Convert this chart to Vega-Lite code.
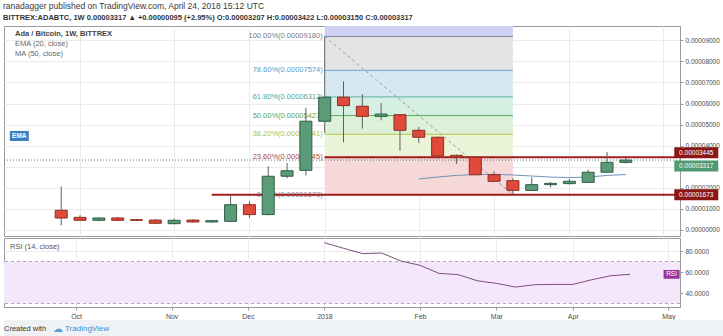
{
  "$schema": "https://vega.github.io/schema/vega-lite/v6.json",
  "background": "white",
  "padding": {"left": 3, "top": 1, "right": 0, "bottom": 0},
  "spacing": 0,
  "title": {
    "text": "ranadagger published on TradingView.com, April 24, 2018 15:12 UTC",
    "subtitle": "BITTREX:ADABTC, 1W 0.00003317 ▲ +0.00000095 (+2.95%) O:0.00003207 H:0.00003422 L:0.00003150 C:0.00003317",
    "anchor": "start",
    "font": "Liberation Sans",
    "fontSize": 8.5,
    "fontWeight": "normal",
    "color": "#3a3a3a",
    "subtitleFont": "Liberation Sans",
    "subtitleFontSize": 7.5,
    "subtitleFontWeight": "bold",
    "subtitleColor": "#333333",
    "subtitlePadding": 4,
    "offset": 4
  },
  "config": {
    "font": "Liberation Sans",
    "view": {"stroke": "#9a9a9a"},
    "axis": {
      "labelFont": "Liberation Sans",
      "labelFontSize": 6.5,
      "labelColor": "#4a4a4a",
      "gridColor": "#ebebeb",
      "domainColor": "#9a9a9a",
      "tickColor": "#9a9a9a",
      "tickSize": 3,
      "labelPadding": 2,
      "labelOverlap": false,
      "labelBound": false,
      "title": null
    }
  },
  "resolve": {"scale": {"x": "independent", "y": "independent"}},
  "datasets": {
    "candles": [
      {"date": "2017-09-25", "open": 0.00000935, "high": 0.0000207, "low": 0.0000022, "close": 0.00000569},
      {"date": "2017-10-02", "open": 0.0000060, "high": 0.0000070, "low": 0.0000044, "close": 0.0000046},
      {"date": "2017-10-09", "open": 0.0000046, "high": 0.0000060, "low": 0.0000042, "close": 0.0000057},
      {"date": "2017-10-16", "open": 0.0000057, "high": 0.0000062, "low": 0.0000043, "close": 0.0000046},
      {"date": "2017-10-23", "open": 0.0000049, "high": 0.0000052, "low": 0.0000044, "close": 0.0000046},
      {"date": "2017-10-30", "open": 0.0000047, "high": 0.0000052, "low": 0.0000028, "close": 0.0000032},
      {"date": "2017-11-06", "open": 0.0000030, "high": 0.0000054, "low": 0.0000027, "close": 0.0000046},
      {"date": "2017-11-13", "open": 0.0000047, "high": 0.0000052, "low": 0.0000035, "close": 0.0000038},
      {"date": "2017-11-20", "open": 0.0000038, "high": 0.0000047, "low": 0.0000035, "close": 0.0000044},
      {"date": "2017-11-27", "open": 0.0000041, "high": 0.00001673, "low": 0.0000038, "close": 0.0000120},
      {"date": "2017-12-04", "open": 0.0000120, "high": 0.0000136, "low": 0.0000057, "close": 0.0000073},
      {"date": "2017-12-11", "open": 0.0000073, "high": 0.0000302, "low": 0.0000070, "close": 0.0000255},
      {"date": "2017-12-18", "open": 0.0000255, "high": 0.0000318, "low": 0.0000245, "close": 0.0000281},
      {"date": "2017-12-25", "open": 0.0000283, "high": 0.0000579, "low": 0.0000259, "close": 0.0000516},
      {"date": "2018-01-01", "open": 0.0000516, "high": 0.0000918, "low": 0.0000460, "close": 0.0000630},
      {"date": "2018-01-08", "open": 0.0000630, "high": 0.0000705, "low": 0.0000416, "close": 0.0000590},
      {"date": "2018-01-15", "open": 0.0000587, "high": 0.0000645, "low": 0.0000481, "close": 0.0000539},
      {"date": "2018-01-22", "open": 0.0000539, "high": 0.0000602, "low": 0.0000520, "close": 0.0000550},
      {"date": "2018-01-29", "open": 0.0000547, "high": 0.0000550, "low": 0.0000376, "close": 0.0000473},
      {"date": "2018-02-05", "open": 0.0000473, "high": 0.0000489, "low": 0.0000413, "close": 0.0000440},
      {"date": "2018-02-12", "open": 0.0000440, "high": 0.0000443, "low": 0.0000350, "close": 0.0000352},
      {"date": "2018-02-19", "open": 0.0000354, "high": 0.0000358, "low": 0.0000313, "close": 0.0000346},
      {"date": "2018-02-26", "open": 0.0000345, "high": 0.0000348, "low": 0.0000260, "close": 0.0000262},
      {"date": "2018-03-05", "open": 0.0000262, "high": 0.0000278, "low": 0.0000228, "close": 0.0000231},
      {"date": "2018-03-12", "open": 0.0000234, "high": 0.0000247, "low": 0.00001673, "close": 0.0000188},
      {"date": "2018-03-19", "open": 0.0000188, "high": 0.0000250, "low": 0.0000185, "close": 0.0000215},
      {"date": "2018-03-26", "open": 0.0000215, "high": 0.0000227, "low": 0.0000202, "close": 0.0000221},
      {"date": "2018-04-02", "open": 0.0000220, "high": 0.0000243, "low": 0.0000215, "close": 0.0000231},
      {"date": "2018-04-09", "open": 0.0000226, "high": 0.0000286, "low": 0.0000224, "close": 0.0000274},
      {"date": "2018-04-16", "open": 0.0000274, "high": 0.0000370, "low": 0.0000270, "close": 0.0000321},
      {"date": "2018-04-23", "open": 0.00003207, "high": 0.00003422, "low": 0.0000315, "close": 0.00003317}
    ],
    "ema": [
      {"date": "2018-02-05", "ema": 0.0000242},
      {"date": "2018-02-12", "ema": 0.0000251},
      {"date": "2018-02-19", "ema": 0.0000259},
      {"date": "2018-02-26", "ema": 0.0000263},
      {"date": "2018-03-05", "ema": 0.0000264},
      {"date": "2018-03-12", "ema": 0.0000261},
      {"date": "2018-03-19", "ema": 0.0000256},
      {"date": "2018-03-26", "ema": 0.0000251},
      {"date": "2018-04-02", "ema": 0.0000249},
      {"date": "2018-04-09", "ema": 0.0000251},
      {"date": "2018-04-16", "ema": 0.0000259},
      {"date": "2018-04-23", "ema": 0.0000263}
    ],
    "rsi": [
      {"date": "2018-01-01", "rsi": 87.9},
      {"date": "2018-01-08", "rsi": 82.6},
      {"date": "2018-01-15", "rsi": 77.5},
      {"date": "2018-01-22", "rsi": 78.1},
      {"date": "2018-01-29", "rsi": 70.5},
      {"date": "2018-02-05", "rsi": 66.4},
      {"date": "2018-02-12", "rsi": 58.7},
      {"date": "2018-02-19", "rsi": 57.5},
      {"date": "2018-02-26", "rsi": 51.7},
      {"date": "2018-03-05", "rsi": 49.2},
      {"date": "2018-03-12", "rsi": 45.7},
      {"date": "2018-03-19", "rsi": 47.9},
      {"date": "2018-03-26", "rsi": 48.2},
      {"date": "2018-04-02", "rsi": 48.2},
      {"date": "2018-04-09", "rsi": 52.7},
      {"date": "2018-04-16", "rsi": 56.5},
      {"date": "2018-04-23", "rsi": 57.8}
    ],
    "fib": [
      {"level": "100.00%", "price": 0.0000918, "label": "100.00%(0.00009180)"},
      {"level": "78.60%", "price": 0.00007574, "label": "78.60%(0.00007574)"},
      {"level": "61.80%", "price": 0.00006312, "label": "61.80%(0.00006312)"},
      {"level": "50.00%", "price": 0.00005427, "label": "50.00%(0.00005427)"},
      {"level": "38.20%", "price": 0.00004541, "label": "38.20%(0.00004541)"},
      {"level": "23.60%", "price": 0.00003445, "label": "23.60%(0.00003445)"},
      {"level": "0.00%", "price": 0.00001673, "label": "0.00%(0.00001673)"}
    ],
    "zones": [
      {"zone": "161.8-100", "low": 0.0000918, "high": 0.00013822},
      {"zone": "100-78.6", "low": 0.00007574, "high": 0.0000918},
      {"zone": "78.6-61.8", "low": 0.00006312, "high": 0.00007574},
      {"zone": "61.8-50", "low": 0.00005427, "high": 0.00006312},
      {"zone": "50-38.2", "low": 0.00004541, "high": 0.00005427},
      {"zone": "38.2-23.6", "low": 0.00003445, "high": 0.00004541},
      {"zone": "23.6-0", "low": 0.00001673, "high": 0.00003445}
    ]
  },
  "vconcat": [
    {
      "width": 676,
      "height": 210,
      "layer": [
        {
          "data": {"name": "zones"},
          "mark": {"type": "rect", "clip": true},
          "encoding": {
            "x": {
              "datum": {"year": 2018, "month": 1, "date": 1, "utc": true},
              "type": "temporal",
              "scale": {"type": "utc", "domain": [{"year": 2017, "month": 9, "date": 5, "hours": 14, "utc": true}, {"year": 2018, "month": 5, "date": 11, "hours": 7, "utc": true}]},
              "axis": {
                "values": [
                  {"year": 2017, "month": 10, "date": 2, "utc": true},
                  {"year": 2017, "month": 11, "date": 6, "utc": true},
                  {"year": 2017, "month": 12, "date": 4, "utc": true},
                  {"year": 2018, "month": 1, "date": 1, "utc": true},
                  {"year": 2018, "month": 2, "date": 5, "utc": true},
                  {"year": 2018, "month": 3, "date": 5, "utc": true},
                  {"year": 2018, "month": 4, "date": 2, "utc": true},
                  {"year": 2018, "month": 5, "date": 7, "utc": true}
                ],
                "tickCount": 30,
                "labels": false, "ticks": false, "domain": false, "grid": true
              }
            },
            "x2": {"datum": {"year": 2018, "month": 3, "date": 12, "utc": true}},
            "y": {
              "field": "low",
              "type": "quantitative",
              "scale": {"domain": [-0.00000285, 0.00009677], "zero": false, "nice": false},
              "axis": {
                "orient": "right",
                "values": [0, 0.00001, 0.00002, 0.00003, 0.00004, 0.00005, 0.00006, 0.00007, 0.00008, 0.00009],
                "tickCount": 30,
                "format": ".8f",
                "labelExpr": "datum.value > 0.0000295 && datum.value < 0.0000305 ? '' : datum.label",
                "labelOverlap": false,
                "grid": true
              }
            },
            "y2": {"field": "high"},
            "fill": {
              "field": "zone",
              "type": "nominal",
              "scale": {
                "domain": ["161.8-100", "100-78.6", "78.6-61.8", "61.8-50", "50-38.2", "38.2-23.6", "23.6-0"],
                "range": ["#cdd0f2", "#e4e4e7", "#d6e9f3", "#d6efe3", "#dcf1d8", "#ebf4d8", "#f6d8d8"]
              },
              "legend": null
            }
          }
        },
        {
          "data": {"name": "fib"},
          "mark": {"type": "rule", "strokeWidth": 1},
          "encoding": {
            "x": {"datum": {"year": 2018, "month": 1, "date": 1, "utc": true}, "type": "temporal"},
            "x2": {"datum": {"year": 2018, "month": 3, "date": 12, "utc": true}},
            "y": {"field": "price", "type": "quantitative"},
            "stroke": {
              "field": "level",
              "type": "nominal",
              "scale": {
                "domain": ["100.00%", "78.60%", "61.80%", "50.00%", "38.20%", "23.60%", "0.00%"],
                "range": ["#85859a", "#6aa6cc", "#5fb0a2", "#4caf50", "#b3c93a", "#c0584a", "#8a8a9a"]
              },
              "legend": null
            }
          }
        },
        {
          "data": {"name": "fib"},
          "mark": {"type": "text", "align": "right", "baseline": "middle", "dx": -2, "fontSize": 7.5, "font": "Liberation Sans"},
          "encoding": {
            "x": {"datum": {"year": 2018, "month": 1, "date": 1, "utc": true}, "type": "temporal"},
            "y": {"field": "price", "type": "quantitative"},
            "text": {"field": "label"},
            "color": {
              "field": "level",
              "type": "nominal",
              "scale": {
                "domain": ["100.00%", "78.60%", "61.80%", "50.00%", "38.20%", "23.60%", "0.00%"],
                "range": ["#7a7a8a", "#5b9cc4", "#4fa597", "#5aa55a", "#aec236", "#b5483a", "#8a8a9a"]
              },
              "legend": null
            }
          }
        },
        {
          "data": {"values": [{}]},
          "mark": {"type": "rule", "color": "#9a9a9a", "strokeDash": [3, 3], "strokeWidth": 1},
          "encoding": {
            "x": {"datum": {"year": 2018, "month": 1, "date": 1, "utc": true}, "type": "temporal"},
            "x2": {"datum": {"year": 2018, "month": 3, "date": 12, "utc": true}},
            "y": {"datum": 0.0000918, "type": "quantitative"},
            "y2": {"datum": 0.00001673}
          }
        },
        {
          "data": {"values": [{}]},
          "mark": {"type": "rule", "color": "#3f7f77", "strokeDash": [1, 2], "strokeWidth": 1},
          "encoding": {
            "y": {"datum": 0.00003317, "type": "quantitative"}
          }
        },
        {
          "data": {"values": [{}]},
          "mark": {"type": "rule", "color": "#a31d1d", "strokeWidth": 2},
          "encoding": {
            "x": {"datum": {"year": 2018, "month": 1, "date": 1, "utc": true}, "type": "temporal"},
            "x2": {"datum": {"year": 2018, "month": 5, "date": 11, "hours": 7, "utc": true}},
            "y": {"datum": 0.00003445, "type": "quantitative"}
          }
        },
        {
          "data": {"values": [{}]},
          "mark": {"type": "rule", "color": "#a31d1d", "strokeWidth": 2},
          "encoding": {
            "x": {"datum": {"year": 2017, "month": 11, "date": 20, "utc": true}, "type": "temporal"},
            "x2": {"datum": {"year": 2018, "month": 5, "date": 11, "hours": 7, "utc": true}},
            "y": {"datum": 0.00001673, "type": "quantitative"}
          }
        },
        {
          "data": {"name": "ema"},
          "mark": {"type": "line", "color": "#6f93b8", "strokeWidth": 1},
          "encoding": {
            "x": {"field": "date", "type": "temporal"},
            "y": {"field": "ema", "type": "quantitative"}
          }
        },
        {
          "data": {"name": "candles"},
          "mark": {"type": "rule", "color": "#5f5f5f", "strokeWidth": 1},
          "encoding": {
            "x": {"field": "date", "type": "temporal"},
            "y": {"field": "low", "type": "quantitative"},
            "y2": {"field": "high"}
          }
        },
        {
          "data": {"name": "candles"},
          "mark": {"type": "bar", "size": 12, "strokeWidth": 1},
          "encoding": {
            "x": {"field": "date", "type": "temporal"},
            "y": {"field": "open", "type": "quantitative"},
            "y2": {"field": "close"},
            "color": {"condition": {"test": "datum.close >= datum.open", "value": "#5b9b77"}, "value": "#e04a3a"},
            "stroke": {"condition": {"test": "datum.close >= datum.open", "value": "#2e5d45"}, "value": "#8e2b20"}
          }
        },
        {
          "data": {"values": [{}]},
          "mark": {"type": "text", "align": "left", "baseline": "middle", "dx": 6, "fontSize": 7.5, "fontWeight": "bold", "color": "#444444"},
          "encoding": {
            "x": {"datum": {"year": 2017, "month": 9, "date": 5, "hours": 14, "utc": true}, "type": "temporal"},
            "y": {"datum": 0.0000930, "type": "quantitative"},
            "text": {"value": "Ada / Bitcoin, 1W, BITTREX"}
          }
        },
        {
          "data": {"values": [{}]},
          "mark": {"type": "text", "align": "left", "baseline": "middle", "dx": 6, "fontSize": 7.5, "color": "#666666"},
          "encoding": {
            "x": {"datum": {"year": 2017, "month": 9, "date": 5, "hours": 14, "utc": true}, "type": "temporal"},
            "y": {"datum": 0.0000882, "type": "quantitative"},
            "text": {"value": "EMA (20, close)"}
          }
        },
        {
          "data": {"values": [{}]},
          "mark": {"type": "text", "align": "left", "baseline": "middle", "dx": 6, "fontSize": 7.5, "color": "#666666"},
          "encoding": {
            "x": {"datum": {"year": 2017, "month": 9, "date": 5, "hours": 14, "utc": true}, "type": "temporal"},
            "y": {"datum": 0.0000835, "type": "quantitative"},
            "text": {"value": "MA (50, close)"}
          }
        },
        {
          "data": {"values": [{}]},
          "mark": {"type": "point", "filled": true, "opacity": 1, "color": "#3f7fbf", "size": 361, "shape": "M-1,-0.53L1,-0.53L1,0.53L-1,0.53Z"},
          "encoding": {
            "x": {"datum": {"year": 2017, "month": 9, "date": 9, "hours": 10, "utc": true}, "type": "temporal"},
            "y": {"datum": 0.0000446, "type": "quantitative"}
          }
        },
        {
          "data": {"values": [{}]},
          "mark": {"type": "text", "align": "center", "baseline": "middle", "fontSize": 6.5, "fontWeight": "bold", "color": "white"},
          "encoding": {
            "x": {"datum": {"year": 2017, "month": 9, "date": 9, "hours": 10, "utc": true}, "type": "temporal"},
            "y": {"datum": 0.0000446, "type": "quantitative"},
            "text": {"value": "EMA"}
          }
        },
        {
          "data": {"values": [{}]},
          "mark": {"type": "point", "filled": true, "opacity": 1, "color": "#8c1616", "size": 1936, "shape": "M-1,-0.25L1,-0.25L1,0.25L-1,0.25Z", "yOffset": -4.5},
          "encoding": {
            "x": {"datum": {"year": 2018, "month": 5, "date": 19, "hours": 5, "utc": true}, "type": "temporal"},
            "y": {"datum": 0.00003445, "type": "quantitative"}
          }
        },
        {
          "data": {"values": [{}]},
          "mark": {"type": "text", "align": "center", "baseline": "middle", "fontSize": 6.5, "color": "white", "dy": -4.5},
          "encoding": {
            "x": {"datum": {"year": 2018, "month": 5, "date": 19, "hours": 5, "utc": true}, "type": "temporal"},
            "y": {"datum": 0.00003445, "type": "quantitative"},
            "text": {"value": "0.00003445"}
          }
        },
        {
          "data": {"values": [{}]},
          "mark": {"type": "point", "filled": true, "opacity": 1, "color": "#4f9a72", "size": 1936, "shape": "M-1,-0.25L1,-0.25L1,0.25L-1,0.25Z", "yOffset": 6},
          "encoding": {
            "x": {"datum": {"year": 2018, "month": 5, "date": 19, "hours": 5, "utc": true}, "type": "temporal"},
            "y": {"datum": 0.00003317, "type": "quantitative"}
          }
        },
        {
          "data": {"values": [{}]},
          "mark": {"type": "text", "align": "center", "baseline": "middle", "fontSize": 6.5, "color": "white", "dy": 6},
          "encoding": {
            "x": {"datum": {"year": 2018, "month": 5, "date": 19, "hours": 5, "utc": true}, "type": "temporal"},
            "y": {"datum": 0.00003317, "type": "quantitative"},
            "text": {"value": "0.00003317"}
          }
        },
        {
          "data": {"values": [{}]},
          "mark": {"type": "point", "filled": true, "opacity": 1, "color": "#8c1616", "size": 1936, "shape": "M-1,-0.25L1,-0.25L1,0.25L-1,0.25Z"},
          "encoding": {
            "x": {"datum": {"year": 2018, "month": 5, "date": 19, "hours": 5, "utc": true}, "type": "temporal"},
            "y": {"datum": 0.00001673, "type": "quantitative"}
          }
        },
        {
          "data": {"values": [{}]},
          "mark": {"type": "text", "align": "center", "baseline": "middle", "fontSize": 6.5, "color": "white"},
          "encoding": {
            "x": {"datum": {"year": 2018, "month": 5, "date": 19, "hours": 5, "utc": true}, "type": "temporal"},
            "y": {"datum": 0.00001673, "type": "quantitative"},
            "text": {"value": "0.00001673"}
          }
        }
      ]
    },
    {
      "width": 676,
      "height": 69,
      "layer": [
        {
          "data": {"values": [{}]},
          "mark": {"type": "rect", "color": "#f4e6fb"},
          "encoding": {
            "y": {"datum": 30, "type": "quantitative", "scale": {"domain": [26.7, 92.4], "zero": false, "nice": false}, "axis": {"orient": "right", "values": [40, 60, 80], "tickCount": 10, "format": ".4f", "labelOverlap": false, "grid": true}},
            "y2": {"datum": 70}
          }
        },
        {
          "data": {"values": [{"v": 70}, {"v": 30}]},
          "mark": {"type": "rule", "color": "#aaaaaa", "strokeDash": [3, 3], "strokeWidth": 1},
          "encoding": {
            "y": {"field": "v", "type": "quantitative"}
          }
        },
        {
          "data": {"name": "rsi"},
          "mark": {"type": "line", "color": "#7d4f82", "strokeWidth": 1},
          "encoding": {
            "x": {
              "field": "date",
              "type": "temporal",
              "scale": {"type": "utc", "domain": [{"year": 2017, "month": 9, "date": 5, "hours": 14, "utc": true}, {"year": 2018, "month": 5, "date": 11, "hours": 7, "utc": true}]},
              "axis": {
                "values": [
                  {"year": 2017, "month": 10, "date": 2, "utc": true},
                  {"year": 2017, "month": 11, "date": 6, "utc": true},
                  {"year": 2017, "month": 12, "date": 4, "utc": true},
                  {"year": 2018, "month": 1, "date": 1, "utc": true},
                  {"year": 2018, "month": 2, "date": 5, "utc": true},
                  {"year": 2018, "month": 3, "date": 5, "utc": true},
                  {"year": 2018, "month": 4, "date": 2, "utc": true},
                  {"year": 2018, "month": 5, "date": 7, "utc": true}
                ],
                "tickCount": 30,
                "labelExpr": "utcmonth(datum.value) == 0 ? '2018' : utcFormat(datum.value, '%b')",
                "labelOverlap": false,
                "grid": true,
                "labelFontSize": 7
              }
            },
            "y": {"field": "rsi", "type": "quantitative"}
          }
        },
        {
          "data": {"values": [{}]},
          "mark": {"type": "text", "align": "left", "baseline": "middle", "dx": 6, "fontSize": 7.5, "color": "#555555"},
          "encoding": {
            "x": {"datum": {"year": 2017, "month": 9, "date": 5, "hours": 14, "utc": true}, "type": "temporal"},
            "y": {"datum": 83.8, "type": "quantitative"},
            "text": {"value": "RSI (14, close)"}
          }
        },
        {
          "data": {"values": [{}]},
          "mark": {"type": "point", "filled": true, "opacity": 1, "color": "#99309e", "size": 256, "shape": "M-1,-0.55L1,-0.55L1,0.55L-1,0.55Z"},
          "encoding": {
            "x": {"datum": {"year": 2018, "month": 5, "date": 8, "hours": 5, "utc": true}, "type": "temporal"},
            "y": {"datum": 57.8, "type": "quantitative"}
          }
        },
        {
          "data": {"values": [{}]},
          "mark": {"type": "text", "align": "center", "baseline": "middle", "fontSize": 6.5, "color": "white"},
          "encoding": {
            "x": {"datum": {"year": 2018, "month": 5, "date": 8, "hours": 5, "utc": true}, "type": "temporal"},
            "y": {"datum": 57.8, "type": "quantitative"},
            "text": {"value": "RSI"}
          }
        }
      ]
    },
    {
      "width": 720,
      "height": 17,
      "view": {"fill": "#eff2f5", "stroke": null},
      "layer": [
        {
          "data": {"values": [{}]},
          "mark": {"type": "text", "align": "left", "baseline": "middle", "fontSize": 7.5, "color": "#333333"},
          "encoding": {
            "x": {"datum": {"year": 2017, "month": 9, "date": 5, "hours": 14, "utc": true}, "type": "temporal", "scale": {"type": "utc", "domain": [{"year": 2017, "month": 9, "date": 5, "hours": 14, "utc": true}, {"year": 2018, "month": 5, "date": 11, "hours": 7, "utc": true}]}, "axis": null},
            "text": {"value": "Created with"}
          }
        },
        {
          "data": {"values": [{}]},
          "mark": {"type": "text", "align": "left", "baseline": "middle", "dx": 49, "fontSize": 10, "font": "DejaVu Sans", "color": "#5aa0d8"},
          "encoding": {
            "x": {"datum": {"year": 2017, "month": 9, "date": 5, "hours": 14, "utc": true}, "type": "temporal"},
            "text": {"value": "☁"}
          }
        },
        {
          "data": {"values": [{}]},
          "mark": {"type": "text", "align": "left", "baseline": "middle", "dx": 61, "fontSize": 8, "color": "#3d8bd9"},
          "encoding": {
            "x": {"datum": {"year": 2017, "month": 9, "date": 5, "hours": 14, "utc": true}, "type": "temporal"},
            "text": {"value": "TradingView"}
          }
        }
      ]
    }
  ]
}
